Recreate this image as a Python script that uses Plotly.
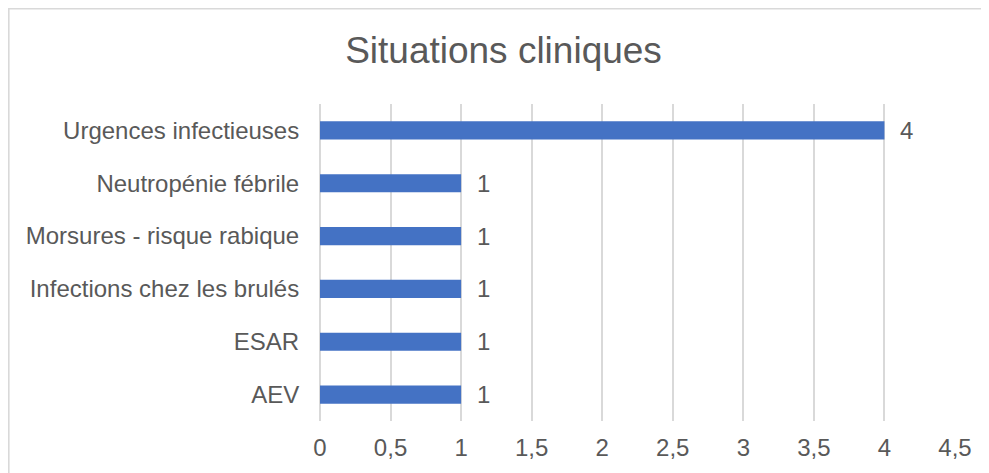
import plotly.graph_objects as go

categories = ["Urgences infectieuses", "Neutropénie fébrile", "Morsures - risque rabique",
              "Infections chez les brulés", "ESAR", "AEV"]
values = [4, 1, 1, 1, 1, 1]
tick_vals = [0, 0.5, 1, 1.5, 2, 2.5, 3, 3.5, 4, 4.5]
tick_text = ["0", "0,5", "1", "1,5", "2", "2,5", "3", "3,5", "4", "4,5"]
title = "Situations cliniques"

# page body has an 8px margin, so the figure starts at (8, 8) in the window
W, H = 981, 465
L, R, T, B = 312, 34, 96, 52
pw, ph = W - L - R, H - T - B

def px_to_xpaper(px):
    return (px - L) / pw

def py_to_ypaper(py):
    return (H - B - py) / ph

FONT = "Liberation Sans, Arial, sans-serif"
TXT = "#595959"
GRID = "#D9D9D9"

fig = go.Figure(go.Bar(
    x=values, y=categories, orientation="h",
    marker=dict(color="#4472C4", line=dict(width=0)),
    width=0.345,
    hoverinfo="skip",
))

for c, v in zip(categories, values):
    fig.add_annotation(x=v, y=c, text=str(v), showarrow=False,
                       xanchor="left", yanchor="middle", xshift=14,
                       font=dict(family=FONT, size=24, color=TXT))

fig.add_shape(type="rect", xref="paper", yref="paper",
              x0=px_to_xpaper(0.8), x1=px_to_xpaper(1000),
              y0=py_to_ypaper(490), y1=py_to_ypaper(0.8),
              line=dict(color=GRID, width=1.6), fillcolor="rgba(0,0,0,0)", layer="below")

fig.update_layout(
    width=W, height=H,
    margin=dict(l=L, r=R, t=T, b=B),
    paper_bgcolor="white", plot_bgcolor="white",
    font=dict(family=FONT, size=24, color=TXT),
    showlegend=False,
    title=dict(text=title, xref="container", x=495.5 / W, xanchor="center",
               yref="container", y=1 - 42 / H, yanchor="middle",
               font=dict(family=FONT, size=37, color=TXT)),
    xaxis=dict(range=[0, 4.5], tickvals=tick_vals, ticktext=tick_text,
               showgrid=True, gridcolor=GRID, gridwidth=1.5,
               zeroline=True, zerolinecolor=GRID, zerolinewidth=1.5,
               showline=False, ticks="outside", ticklen=5, tickcolor="rgba(0,0,0,0)",
               automargin=False,
               tickfont=dict(family=FONT, size=24, color=TXT), fixedrange=True),
    yaxis=dict(autorange="reversed", showgrid=False, zeroline=False, showline=False,
               ticks="outside", ticklen=15, tickcolor="rgba(0,0,0,0)", automargin=False,
               tickfont=dict(family=FONT, size=24, color=TXT), fixedrange=True),
)

fig.write_html("out.html")
